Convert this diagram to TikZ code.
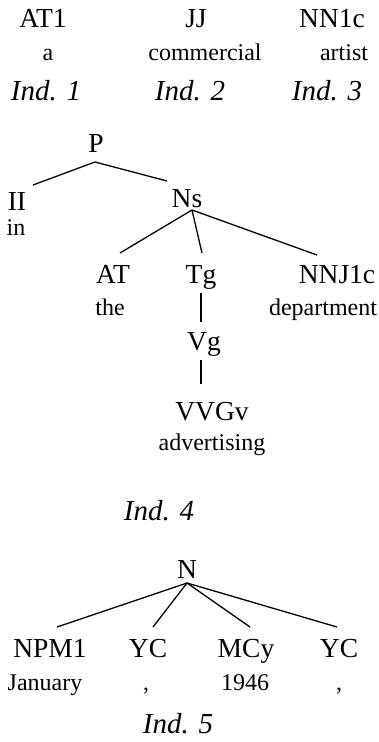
\documentclass[tikz,border=0pt]{standalone}
\usepackage{fontspec}
\setmainfont{Liberation Serif}
\begin{document}
\begin{tikzpicture}[x=1pt,y=-1pt,
  big/.style={font=\fontsize{27.5}{30}\selectfont, anchor=base, inner sep=0pt},
  small/.style={font=\fontsize{24}{26}\selectfont, anchor=base, inner sep=0pt},
  ind/.style={font=\fontsize{29}{31}\selectfont\itshape, anchor=base, inner sep=0pt},
  edge/.style={line width=1.3pt}]
\useasboundingbox (0,0) rectangle (378,742);
% top row
\node[big] (at1) at (43,27) {AT1};
\node[big] (jj) at (196,27) {JJ};
\node[big] (nn1c) at (332,27) {NN1c};
\node[small] (wa) at (48,60) {a};
\node[small] (wcom) at (205,60) {commercial};
\node[small] (wart) at (344,60) {artist};
\node[ind] (ind1) at (46,100) {Ind. 1};
\node[ind] (ind2) at (190,100) {Ind. 2};
\node[ind] (ind3) at (327,100) {Ind. 3};
% tree 4
\node[big] (P) at (96,152) {P};
\node[big] (II) at (17,210) {II};
\node[small] (win) at (16,235) {in};
\node[big] (Ns) at (187,207) {Ns};
\node[big] (AT) at (113,283) {AT};
\node[big] (Tg) at (201,283) {Tg};
\node[big] (NNJ) at (337,283) {NNJ1c};
\node[small] (wthe) at (110,315) {the};
\node[small] (wdep) at (323,315) {department};
\node[big] (Vg) at (204,350) {Vg};
\node[big] (VVGv) at (212,420) {VVGv};
\node[small] (wadv) at (212,450) {advertising};
\node[ind] (ind4) at (159,520) {Ind. 4};
\draw[edge] ([shift={(-1,10)}]P.base) -- ([shift={(16,-25)}]II.base);
\draw[edge] ([shift={(-1,10)}]P.base) -- ([shift={(-20,-26)}]Ns.base);
\draw[edge] ([shift={(5,3)}]Ns.base) -- ([shift={(7,-30)}]AT.base);
\draw[edge] ([shift={(5,3)}]Ns.base) -- ([shift={(1,-30)}]Tg.base);
\draw[edge] ([shift={(5,3)}]Ns.base) -- ([shift={(-20,-28)}]NNJ.base);
\draw[edge] ([shift={(0,10)}]Tg.base) -- ([shift={(-3,-28)}]Vg.base);
\draw[edge] ([shift={(-3,10)}]Vg.base) -- ([shift={(-11,-36)}]VVGv.base);
% tree 5
\node[big] (N) at (187,578) {N};
\node[big] (NPM) at (50,657) {NPM1};
\node[big] (YCa) at (148,657) {YC};
\node[big] (MCy) at (246,657) {MCy};
\node[big] (YCb) at (339,657) {YC};
\node[small] (wjan) at (45,690) {January};
\node[small] (wca) at (146,690) {,};
\node[small] (wyr) at (245,690) {1946};
\node[small] (wcb) at (339,690) {,};
\node[ind] (ind5) at (178,733) {Ind. 5};
\draw[edge] ([shift={(0,5)}]N.base) -- ([shift={(7,-30)}]NPM.base);
\draw[edge] ([shift={(0,5)}]N.base) -- ([shift={(5,-30)}]YCa.base);
\draw[edge] ([shift={(0,5)}]N.base) -- ([shift={(4,-30)}]MCy.base);
\draw[edge] ([shift={(0,5)}]N.base) -- ([shift={(-2,-30)}]YCb.base);
\end{tikzpicture}
\end{document}
